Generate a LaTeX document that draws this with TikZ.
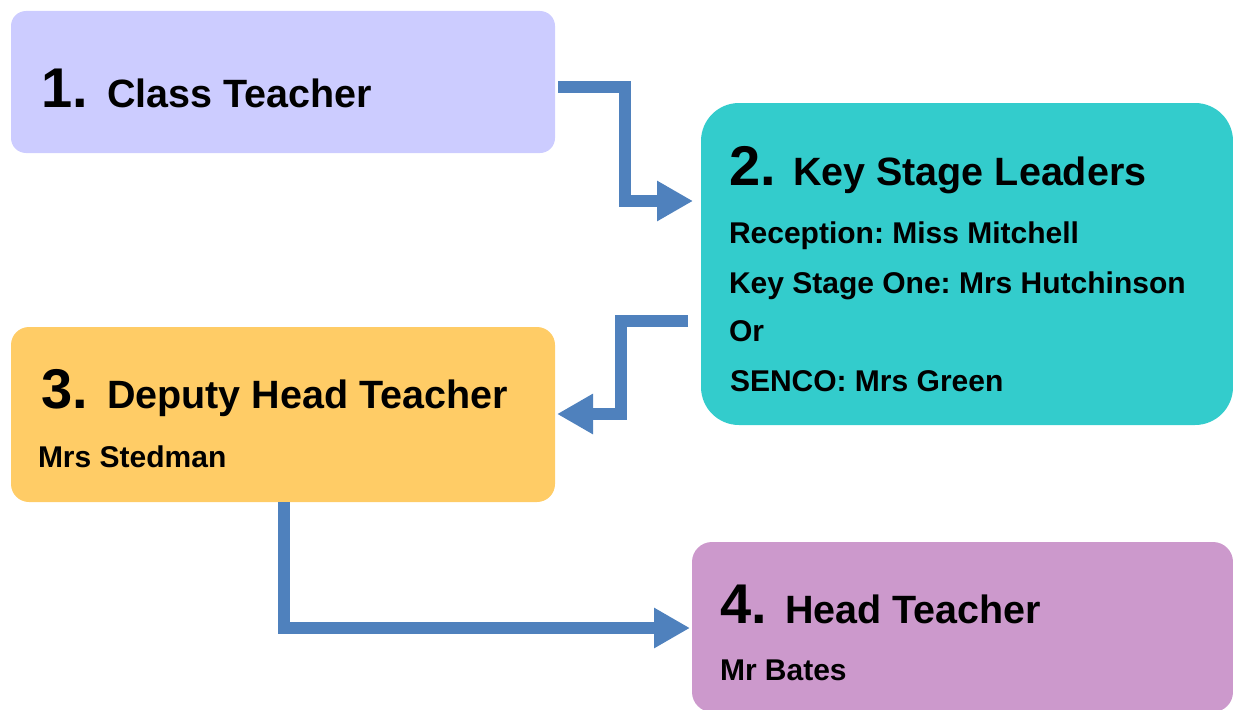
\documentclass[tikz,border=0pt]{standalone}
\usepackage{fontspec}
\setmainfont{Liberation Sans}
\frenchspacing
\usetikzlibrary{arrows.meta}
\definecolor{boxA}{HTML}{CCCCFF}
\definecolor{boxB}{HTML}{33CCCC}
\definecolor{boxC}{HTML}{FFCC66}
\definecolor{boxD}{HTML}{CC99CC}
\definecolor{arrowblue}{HTML}{4F81BD}
\tikzset{
  box/.style={draw=none, rectangle, inner sep=0pt, outer sep=0pt},
  txt/.style={anchor=base west, inner sep=0pt, outer sep=0pt, text=black, font=\bfseries},
  numtxt/.style={txt, font=\fontsize{56}{62}\selectfont\bfseries},
  ttltxt/.style={txt, font=\fontsize{39.5}{46}\selectfont\bfseries},
  subtxt/.style={txt, font=\fontsize{30}{36}\selectfont\bfseries},
  flow/.style={draw=arrowblue, line width=12pt, miter limit=10, line join=miter,
    -{Triangle[length=36pt, width=38pt]}},
}
\begin{document}
\begin{tikzpicture}[x=1pt, y=-1pt]
\useasboundingbox (0,0) rectangle (1233,709);
\begin{scope}
\clip (0,0) rectangle (1233,709);
% boxes
\fill[boxA, rounded corners=15pt] (11,11) rectangle (555,153);
\fill[boxB, rounded corners=38pt] (701,103) rectangle (1233,425);
\fill[boxC, rounded corners=18pt] (11,327) rectangle (555,502);
\fill[boxD, rounded corners=20pt] (692,542) rectangle (1233,712);
\end{scope}
% anchor nodes for connectors
\node[box, minimum width=544pt, minimum height=142pt] (b1) at (283,82) {};
\node[box, minimum width=532pt, minimum height=322pt] (b2) at (967,264) {};
\node[box, minimum width=544pt, minimum height=175pt] (b3) at (283,414.5) {};
\node[box, minimum width=541pt, minimum height=167pt] (b4) at (962.5,625.5) {};
% texts
\node[numtxt] (n1) at (41,107) {1.};
\node[ttltxt] (t1) at (107,107) {Class Teacher};
\node[numtxt] (n2) at (729,185) {2.};
\node[ttltxt] (t2) at (793,185) {Key Stage Leaders};
\node[subtxt] (s2a) at (729,243) {Reception: Miss Mitchell};
\node[subtxt] (s2b) at (729,293) {Key Stage One: Mrs Hutchinson};
\node[subtxt] (s2c) at (729,341) {Or};
\node[subtxt] (s2d) at (730,391) {SENCO: Mrs Green};
\node[numtxt] (n3) at (41,408) {3.};
\node[ttltxt] (t3) at (107,408) {Deputy Head Teacher};
\node[subtxt] (s3) at (38,467) {Mrs Stedman};
\node[numtxt] (n4) at (720,623) {4.};
\node[ttltxt] (t4) at (785,623) {Head Teacher};
\node[subtxt] (s4) at (720,680) {Mr Bates};
% connectors
\coordinate (c1s) at (558,87);
\coordinate (c1e) at (693,201);
\draw[flow] (c1s) -| (625,201) -- (c1e);
\coordinate (c2s) at (688,321);
\coordinate (c2e) at (557,414);
\draw[flow] (c2s) -| (621,414) -- (c2e);
\coordinate (c3s) at (b3.south -| 284,0);
\coordinate (c3e) at (690,628);
\draw[flow] (c3s) |- (c3e);
\end{tikzpicture}
\end{document}
